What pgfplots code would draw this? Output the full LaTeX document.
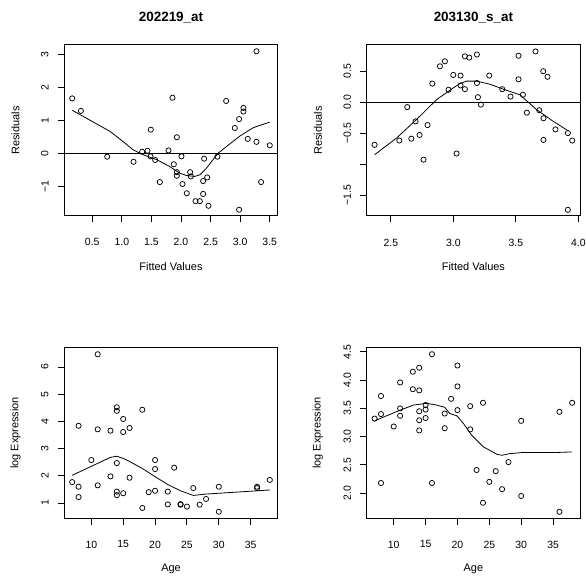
\documentclass[border=0pt]{standalone}
\usepackage{fontspec}
\setmainfont{Liberation Sans}
\usepackage{pgfplots}
\pgfplotsset{compat=1.18}
\pgfplotsset{
  rplot/.style={
    scale only axis,
    width=213.4bp,
    axis lines=box,
    axis line style={black, line width=1bp},
    every tick/.style={line width=0.9bp, black},
    tick align=outside,
    major tick length=6.5bp,
    xtick pos=bottom,
    ytick pos=left,
    clip=false,
    tick label style={font=\fontsize{10.5}{12}\selectfont, inner sep=0pt},
    label style={font=\fontsize{11}{13}\selectfont},
    xticklabel style={anchor=north, yshift=-16bp},
    yticklabel style={rotate=90, anchor=south, yshift=9bp},
    xlabel style={at={(axis description cs:0.5,-0.298)}, anchor=center},
    ylabel style={at={(axis description cs:-0.229,0.5)}, anchor=center, rotate=0},
    title style={at={(axis description cs:0.5,1.123)}, anchor=center, yshift=0pt, font=\fontsize{13.5}{15}\selectfont\bfseries},
    every axis plot/.style={black},
    after end axis/.code={\draw[line width=1bp, black] (rel axis cs:0,0) rectangle (rel axis cs:1,1);},
  },
  pts/.style={only marks, mark=o, mark size=2.6bp, mark options={line width=0.75bp}},
  smooth/.style={no marks, line width=0.8bp},
}
\begin{document}
\begin{tikzpicture}
\useasboundingbox (0,0) rectangle (586bp,576bp);
% ---------- Panel 1 ----------
\begin{axis}[rplot, height=171bp, at={(64.3bp,360bp)}, anchor=south west,
  xmin=0.0285, xmax=3.634, ymin=-1.89, ymax=3.30,
  xtick={0.5,1,1.5,2,2.5,3,3.5}, xticklabels={0.5,1.0,1.5,2.0,2.5,3.0,3.5},
  ytick={-1,0,1,2,3}, yticklabels={−1,0,1,2,3},
  xlabel={Fitted Values}, ylabel={Residuals}, title={202219\_at}]
\addplot[pts] coordinates {
(0.162,1.68)(0.309,1.30)(0.753,-0.09)(1.198,-0.245)(1.344,0.06)(1.434,0.09)
(1.49,0.73)(1.485,-0.08)(1.564,-0.19)(1.643,-0.86)(1.789,0.10)(1.856,1.70)
(1.879,-0.32)(1.93,0.50)(1.93,-0.56)(1.93,-0.67)(2.008,-0.08)(2.025,-0.92)
(2.098,-1.20)(2.155,-0.56)(2.166,-0.69)(2.245,-1.44)(2.318,-1.44)(2.374,-0.83)
(2.374,-1.22)(2.391,-0.15)(2.442,-0.72)(2.464,-1.58)(2.616,-0.09)(2.763,1.60)
(2.909,0.78)(2.982,1.05)(2.982,-1.70)(3.055,1.39)(3.055,1.28)(3.128,0.45)
(3.275,3.11)(3.275,0.36)(3.354,-0.86)(3.5,0.255)};
\addplot[smooth] coordinates {
(0.162,1.32)(0.45,1.03)(0.798,0.68)(1.0,0.40)(1.19,0.12)(1.36,-0.03)(1.59,-0.18)
(1.81,-0.39)(1.98,-0.59)(2.09,-0.66)(2.23,-0.69)(2.32,-0.64)(2.43,-0.44)
(2.54,-0.18)(2.63,0.02)(2.77,0.22)(2.99,0.53)(3.22,0.79)(3.5,0.96)};
\addplot[no marks, line width=0.8bp] coordinates {(0.0285,0)(3.634,0)};
\end{axis}
% ---------- Panel 2 ----------
\begin{axis}[rplot, height=171bp, at={(366.7bp,360bp)}, anchor=south west,
  xmin=2.306, xmax=4.014, ymin=-1.84, ymax=0.924,
  xtick={2.5,3,3.5,4}, xticklabels={2.5,3.0,3.5,4.0},
  ytick={-1.5,-1,-0.5,0,0.5}, yticklabels={−1.5,,−0.5,0.0,0.5},
  xlabel={Fitted Values}, ylabel={Residuals}, title={203130\_s\_at}]
\addplot[pts] coordinates {
(2.369,-0.69)(2.567,-0.62)(2.631,-0.08)(2.663,-0.59)(2.697,-0.31)(2.729,-0.53)
(2.761,-0.93)(2.793,-0.37)(2.831,0.30)(2.892,0.58)(2.932,0.66)(2.961,0.20)
(2.999,0.44)(3.025,-0.83)(3.057,0.43)(3.057,0.27)(3.092,0.21)(3.092,0.74)
(3.127,0.72)(3.188,0.77)(3.188,0.31)(3.196,0.08)(3.22,-0.04)(3.287,0.43)
(3.391,0.21)(3.457,0.09)(3.521,0.75)(3.521,0.37)(3.556,0.12)(3.588,-0.17)
(3.657,0.82)(3.687,-0.13)(3.719,0.50)(3.721,-0.26)(3.721,-0.61)(3.753,0.41)
(3.817,-0.44)(3.916,-0.50)(3.916,-1.74)(3.951,-0.62)};
\addplot[smooth] coordinates {
(2.369,-0.85)(2.545,-0.58)(2.705,-0.28)(2.865,0.04)(2.999,0.23)(3.052,0.30)
(3.105,0.34)(3.185,0.34)(3.292,0.29)(3.399,0.21)(3.532,0.12)(3.665,-0.12)
(3.799,-0.31)(3.916,-0.46)};
\addplot[no marks, line width=0.8bp] coordinates {(2.306,0)(4.014,0)};
\end{axis}
% ---------- Panel 3 ----------
\begin{axis}[rplot, height=170bp, at={(64.3bp,58bp)}, anchor=south west,
  xmin=5.76, xmax=39.24, ymin=0.45, ymax=6.70,
  xtick={10,15,20,25,30,35}, xticklabels={10,15,20,25,30,35},
  ytick={1,2,3,4,5,6}, yticklabels={1,2,3,4,5,6},
  xlabel={Age}, ylabel={log Expression}]
\addplot[pts] coordinates {
(7,1.77)(8,1.60)(8,1.22)(8,3.84)(10,2.58)(11,6.47)(11,3.71)(11,1.65)
(13,3.66)(13,1.98)(14,4.52)(14,4.39)(14,2.47)(14,1.42)(14,1.29)
(15,4.09)(15,3.61)(15,1.36)(16,3.76)(16,1.93)(18,4.43)(18,0.82)(19,1.40)
(20,2.58)(20,2.25)(20,1.45)(22,1.42)(22,0.95)(23,2.30)(24,0.96)(24,0.94)
(25,0.87)(26,1.55)(27,0.94)(28,1.15)(30,1.60)(30,0.68)(36,1.60)(36,1.55)(38,1.85)};
\addplot[smooth] coordinates {
(7,2.02)(10,2.35)(13,2.68)(14,2.72)(15,2.64)(16,2.53)(18,2.27)(20,1.97)
(22,1.68)(24,1.45)(26,1.28)(28,1.33)(30,1.36)(36,1.45)(38,1.48)};
\end{axis}
% ---------- Panel 4 ----------
\begin{axis}[rplot, height=170bp, at={(366.7bp,58bp)}, anchor=south west,
  xmin=5.76, xmax=39.24, ymin=1.56, ymax=4.57,
  xtick={10,15,20,25,30,35}, xticklabels={10,15,20,25,30,35},
  ytick={2,2.5,3,3.5,4,4.5}, yticklabels={2.0,2.5,3.0,3.5,4.0,4.5},
  xlabel={Age}, ylabel={log Expression}]
\addplot[pts] coordinates {
(7,3.32)(8,3.40)(8,3.72)(8,2.18)(10,3.18)(11,3.96)(11,3.50)(11,3.37)
(13,4.15)(13,3.84)(14,4.22)(14,3.82)(14,3.45)(14,3.29)(14,3.11)
(15,3.56)(15,3.48)(15,3.33)(16,4.46)(16,2.18)(18,3.41)(18,3.15)(19,3.67)
(20,4.26)(20,3.89)(20,3.47)(22,3.54)(22,3.13)(23,2.41)(24,3.60)(24,1.83)
(25,2.20)(26,2.39)(27,2.07)(28,2.55)(30,3.28)(30,1.95)(36,3.44)(36,1.67)(38,3.60)};
\addplot[smooth] coordinates {
(7,3.28)(11,3.47)(13.1,3.56)(15.2,3.59)(16.7,3.56)(18,3.52)(18.8,3.41)
(19.9,3.37)(20.9,3.24)(22.2,3.03)(24.06,2.82)(26.15,2.69)(27,2.67)(28.2,2.70)
(30.3,2.72)(35.5,2.72)(38,2.73)};
\end{axis}
\end{tikzpicture}
\end{document}
